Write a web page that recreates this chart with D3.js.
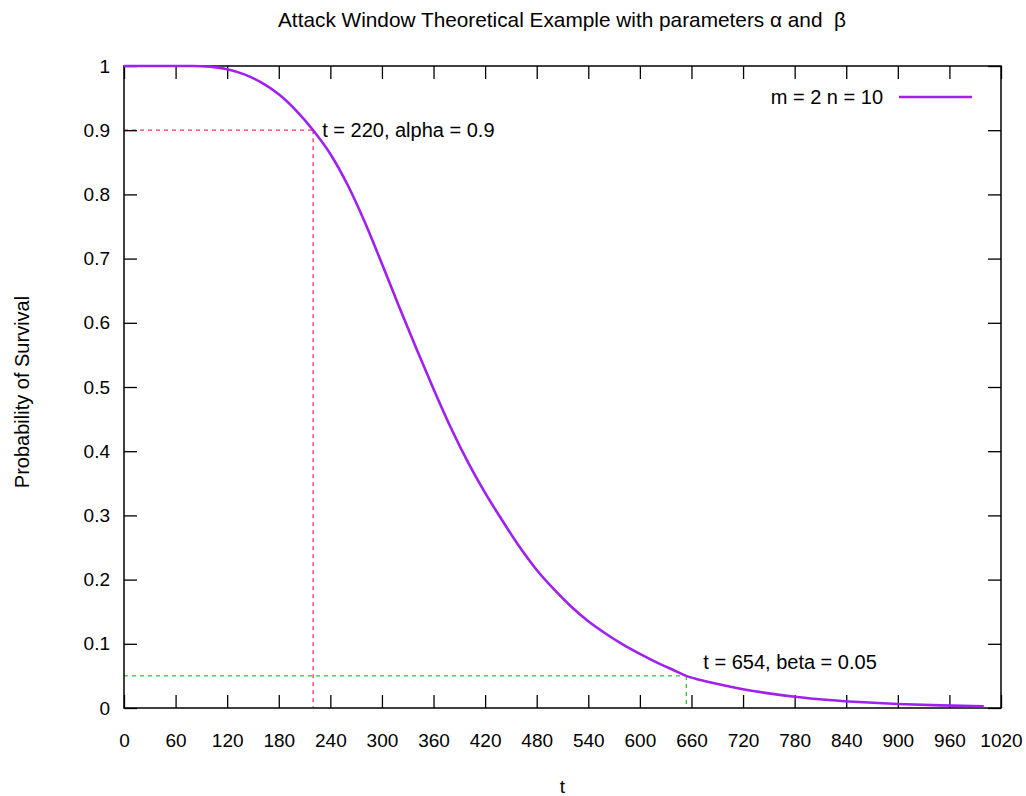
<!DOCTYPE html>
<html>
<head>
<meta charset="utf-8">
<script src="https://cdn.jsdelivr.net/npm/d3@7"></script>
<style>
  html, body { margin: 0; padding: 0; background: #fff; }
  svg { display: block; }
  text { font-family: "Liberation Sans", Arial, Helvetica, sans-serif; fill: #000; }
</style>
</head>
<body>
<svg id="chart" width="1026" height="796"></svg>
<script>
// ---- data ----
const tValues = [0, 40, 80, 100, 120, 140, 160, 180, 200, 220, 240, 260, 280, 300, 320, 340, 360, 380, 400, 420, 440, 460, 480, 500, 520, 540, 560, 580, 600, 620, 640, 654, 680, 700, 720, 750, 780, 820, 860, 900, 950, 1000];
const survival = [1.0, 1.0, 1.0, 0.999, 0.995, 0.987, 0.974, 0.956, 0.931, 0.9, 0.863, 0.815, 0.757, 0.692, 0.625, 0.56, 0.497, 0.437, 0.383, 0.335, 0.292, 0.251, 0.215, 0.185, 0.158, 0.135, 0.116, 0.099, 0.0842, 0.0706, 0.0585, 0.05, 0.0405, 0.0345, 0.0293, 0.0228, 0.0176, 0.0125, 0.0089, 0.0063, 0.0041, 0.0027];
const xTicks = [0, 60, 120, 180, 240, 300, 360, 420, 480, 540, 600, 660, 720, 780, 840, 900, 960, 1020];
const yTicks = [0, 0.1, 0.2, 0.3, 0.4, 0.5, 0.6, 0.7, 0.8, 0.9, 1];
const alphaPoint = { t: 220, p: 0.9, label: "t = 220, alpha = 0.9" };
const betaPoint = { t: 654, p: 0.05, label: "t = 654, beta = 0.05" };
const seriesName = "m = 2 n = 10";
const chartTitle = "Attack Window Theoretical Example with parameters \u03b1 and  \u03b2";
const xLabel = "t";
const yLabel = "Probability of Survival";

// ---- layout ----
const L = 124, R = 1001, T = 66, B = 708;
const svg = d3.select("#chart");
const x = d3.scaleLinear().domain([0, 1020]).range([L, R]);
const y = d3.scaleLinear().domain([0, 1]).range([B, T]);
const tickLen = 13;

// reference dashed lines
const red = "#f0305a", green = "#2fbf3a", purple = "#a020f0";
const dash = svg.append("g").attr("fill", "none").attr("stroke-width", 1.3).attr("stroke-dasharray", "4,4");
dash.append("line").attr("stroke", red)
  .attr("x1", x(0)).attr("x2", x(alphaPoint.t)).attr("y1", y(alphaPoint.p)).attr("y2", y(alphaPoint.p));
dash.append("line").attr("stroke", red)
  .attr("x1", x(alphaPoint.t)).attr("x2", x(alphaPoint.t)).attr("y1", y(alphaPoint.p)).attr("y2", y(0));
dash.append("line").attr("stroke", green)
  .attr("x1", x(0)).attr("x2", x(betaPoint.t)).attr("y1", y(betaPoint.p)).attr("y2", y(betaPoint.p));
dash.append("line").attr("stroke", green)
  .attr("x1", x(betaPoint.t)).attr("x2", x(betaPoint.t)).attr("y1", y(betaPoint.p)).attr("y2", y(0));

// axes with inward ticks on all four sides
const fs = 19;
const gBottom = svg.append("g").attr("transform", `translate(0,${B})`)
  .call(d3.axisBottom(x).tickValues(xTicks).tickSize(-tickLen).tickPadding(26).tickFormat(d3.format("d")));
const gTop = svg.append("g").attr("transform", `translate(0,${T})`)
  .call(d3.axisTop(x).tickValues(xTicks).tickSize(-tickLen).tickFormat(""));
const gLeft = svg.append("g").attr("transform", `translate(${L},0)`)
  .call(d3.axisLeft(y).tickValues(yTicks).tickSize(-tickLen).tickPadding(14).tickFormat(d => d === 0 ? "0" : d === 1 ? "1" : d3.format(".1f")(d)));
const gRight = svg.append("g").attr("transform", `translate(${R},0)`)
  .call(d3.axisRight(y).tickValues(yTicks).tickSize(-tickLen).tickFormat(""));
[gBottom, gTop, gLeft, gRight].forEach(g => {
  g.select(".domain").remove();
  g.selectAll(".tick line").attr("stroke", "#000").attr("stroke-width", 1.3);
  g.selectAll("text").attr("font-size", fs).attr("font-family", "Liberation Sans, Arial, sans-serif").attr("fill", "#000");
});

// border
svg.append("rect").attr("x", L).attr("y", T).attr("width", R - L).attr("height", B - T)
  .attr("fill", "none").attr("stroke", "#000").attr("stroke-width", 1.5);

// curve
const data = tValues.map((t, i) => ({ t, p: survival[i] }));
svg.append("path").datum(data)
  .attr("fill", "none").attr("stroke", purple).attr("stroke-width", 2.6)
  .attr("d", d3.line().x(d => x(d.t)).y(d => y(d.p)).curve(d3.curveMonotoneX));

// annotations
svg.append("text").attr("x", x(alphaPoint.t) + 9).attr("y", y(alphaPoint.p)).attr("dy", "0.35em")
  .attr("font-size", 20).text(alphaPoint.label);
svg.append("text").attr("x", x(betaPoint.t) + 17).attr("y", y(betaPoint.p) - 14).attr("dy", "0.35em")
  .attr("font-size", 20).text(betaPoint.label);

// legend
svg.append("text").attr("x", 883).attr("y", 97).attr("dy", "0.35em").attr("text-anchor", "end")
  .attr("font-size", 20).text(seriesName);
svg.append("line").attr("x1", 899).attr("x2", 972).attr("y1", 97).attr("y2", 97)
  .attr("stroke", purple).attr("stroke-width", 2.6);

// titles
svg.append("text").attr("x", 562).attr("y", 20).attr("dy", "0.35em").attr("text-anchor", "middle")
  .attr("font-size", 20.8).style("white-space", "pre").text(chartTitle);
svg.append("text").attr("x", (L + R) / 2).attr("y", 786).attr("dy", "0.35em").attr("text-anchor", "middle")
  .attr("font-size", 19).text(xLabel);
svg.append("text").attr("transform", `translate(22,${(T + B) / 2 + 5}) rotate(-90)`).attr("dy", "0.35em")
  .attr("text-anchor", "middle").attr("font-size", 20).text(yLabel);
</script>
</body>
</html>
